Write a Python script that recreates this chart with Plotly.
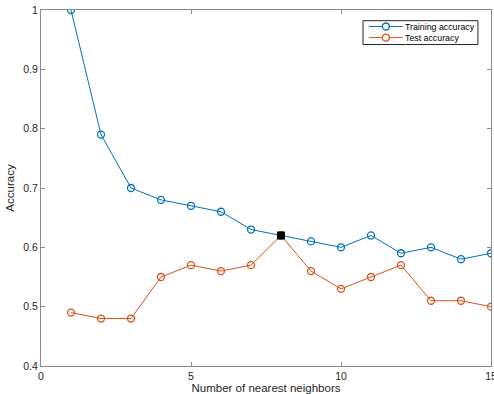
import plotly.graph_objects as go

neighbors = list(range(1, 16))
train_acc = [1.00, 0.79, 0.70, 0.68, 0.67, 0.66, 0.63, 0.62, 0.61, 0.60, 0.62, 0.59, 0.60, 0.58, 0.59]
test_acc = [0.49, 0.48, 0.48, 0.55, 0.57, 0.56, 0.57, 0.62, 0.56, 0.53, 0.55, 0.57, 0.51, 0.51, 0.50]
best_k = [8]
best_acc = [0.62]
x_ticks = [0, 5, 10, 15]
y_ticks = [0.4, 0.5, 0.6, 0.7, 0.8, 0.9, 1.0]
y_labels = ["0.4", "0.5", "0.6", "0.7", "0.8", "0.9", "1"]
series_names = ["Training accuracy", "Test accuracy"]

BLUE = "#0072BD"
ORANGE = "#D95319"
FONT = "Liberation Sans, Arial, sans-serif"
TXT = "#262626"

fig = go.Figure()
fig.add_trace(go.Scatter(
    x=neighbors, y=train_acc, mode="lines+markers", name=series_names[0],
    line=dict(color=BLUE, width=1), showlegend=False,
    marker=dict(symbol="circle-open", size=7, color=BLUE, line=dict(width=1.3)),
))
fig.add_trace(go.Scatter(
    x=neighbors, y=test_acc, mode="lines+markers", name=series_names[1],
    line=dict(color=ORANGE, width=1), showlegend=False,
    marker=dict(symbol="circle-open", size=7, color=ORANGE, line=dict(width=1.3)),
))
fig.add_trace(go.Scatter(
    x=best_k, y=best_acc, mode="markers", showlegend=False,
    marker=dict(symbol="square", size=8, color="black"),
))

axis_common = dict(
    showgrid=False, zeroline=False, showline=True, linecolor="#8c8c8c", linewidth=1,
    mirror="ticks", ticks="inside", ticklen=4, tickcolor="#8c8c8c",
    tickfont=dict(family=FONT, size=10.5, color=TXT), ticklabeloverflow="allow",
    automargin=False,
)
fig.update_xaxes(range=[0, 15], tickvals=x_ticks, ticktext=[str(v) for v in x_ticks],
                 title=dict(text="Number of nearest neighbors", font=dict(family=FONT, size=11.5, color=TXT), standoff=0),
                 **axis_common)
fig.update_yaxes(range=[0.4, 1.0], tickvals=y_ticks, ticktext=y_labels,
                 title=dict(text="Accuracy", font=dict(family=FONT, size=11.5, color=TXT), standoff=6),
                 **axis_common)

# compact MATLAB-style legend box
lx0, lx1, ly0, ly1 = 0.7156, 0.971, 0.903, 0.970
entry_y = [0.9536, 0.9226]
colors = [BLUE, ORANGE]
shapes = [dict(type="rect", xref="paper", yref="paper", x0=lx0, x1=lx1, y0=ly0, y1=ly1,
               line=dict(color="#262626", width=1), fillcolor="white", layer="above")]
annotations = []
for name, ey, c in zip(series_names, entry_y, colors):
    shapes.append(dict(type="line", xref="paper", yref="paper", x0=0.729, x1=0.804, y0=ey, y1=ey,
                       line=dict(color=c, width=1), layer="above"))
    shapes.append(dict(type="circle", xref="paper", yref="paper", xsizemode="pixel", ysizemode="pixel",
                       xanchor=0.7665, yanchor=ey, x0=-3.5, x1=3.5, y0=-3.5, y1=3.5,
                       line=dict(color=c, width=1.3), fillcolor="white", layer="above"))
    annotations.append(dict(text=name, xref="paper", yref="paper", x=0.807, y=ey, xanchor="left",
                            yanchor="middle", showarrow=False, borderpad=0,
                            font=dict(family=FONT, size=8.8, color="black")))

fig.update_layout(
    width=494, height=394,
    margin=dict(l=41, r=3, t=10, b=28),
    plot_bgcolor="white", paper_bgcolor="white",
    font=dict(family=FONT, size=11, color=TXT),
    showlegend=False,
    shapes=shapes, annotations=annotations,
)

fig.write_html("out.html", config={"displayModeBar": False},
               post_script="document.body.style.margin='0';")
